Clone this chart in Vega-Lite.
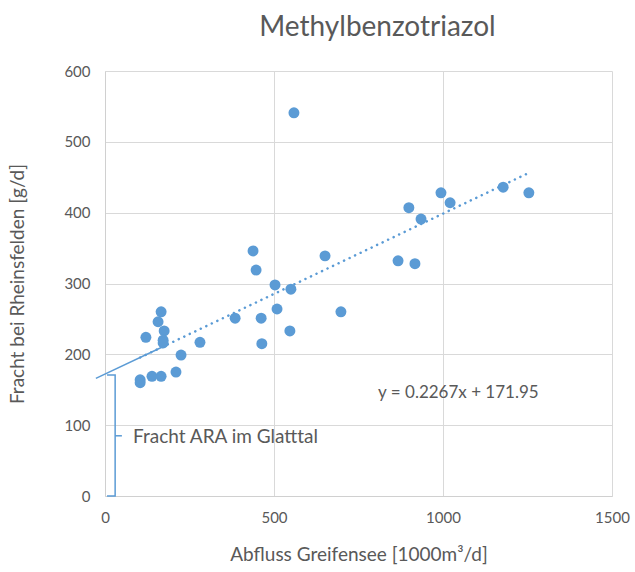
{
  "$schema": "https://vega.github.io/schema/vega-lite/v6.json",
  "autosize": "none",
  "width": 507,
  "height": 425,
  "padding": {"left": 105, "top": 71, "right": 23, "bottom": 76},
  "background": "white",
  "config": {
    "font": "Lato",
    "view": {"stroke": null},
    "axis": {"labelColor": "#595959", "titleColor": "#595959", "labelFont": "Lato", "titleFont": "Lato", "labelFontSize": 15, "titleFontSize": 19, "titleFontWeight": "normal", "gridColor": "#d9d9d9", "domainColor": "#d0d0d0", "ticks": false, "labelFlush": false}
  },
  "title": {"text": "Methylbenzotriazol", "fontSize": 28, "font": "Lato", "fontWeight": "normal", "color": "#595959", "anchor": "middle", "dx": 19, "offset": 22},
  "datasets": {
    "pts": [
      {"q": 559, "f": 541},
      {"q": 166, "f": 260}, {"q": 157, "f": 246}, {"q": 175, "f": 233}, {"q": 121, "f": 224},
      {"q": 172, "f": 220}, {"q": 172, "f": 216}, {"q": 281, "f": 217}, {"q": 225, "f": 199},
      {"q": 210, "f": 175}, {"q": 166, "f": 169}, {"q": 139, "f": 169}, {"q": 104, "f": 164}, {"q": 104, "f": 160},
      {"q": 438, "f": 346}, {"q": 447, "f": 319}, {"q": 651, "f": 339}, {"q": 503, "f": 298},
      {"q": 550, "f": 292}, {"q": 509, "f": 264}, {"q": 462, "f": 251}, {"q": 385, "f": 251},
      {"q": 698, "f": 260}, {"q": 547, "f": 233}, {"q": 464, "f": 215},
      {"q": 899, "f": 407}, {"q": 935, "f": 391}, {"q": 994, "f": 428}, {"q": 1021, "f": 414},
      {"q": 1178, "f": 436}, {"q": 1254, "f": 428}, {"q": 867, "f": 332}, {"q": 917, "f": 328}
    ],
    "trend": [{"q": 104, "f": 195.5}, {"q": 1258, "f": 457.1}],
    "annot": [
      {"g": "ext", "o": 1, "q": -27, "f": 166}, {"g": "ext", "o": 2, "q": 168, "f": 210},
      {"g": "br", "o": 1, "q": 6, "f": 171}, {"g": "br", "o": 2, "q": 30, "f": 171},
      {"g": "br", "o": 3, "q": 30, "f": 0}, {"g": "br", "o": 4, "q": 6, "f": 0},
      {"g": "tk", "o": 1, "q": 30, "f": 85}, {"g": "tk", "o": 2, "q": 50, "f": 85}
    ],
    "labels": [
      {"q": 808, "f": 145, "t": "y = 0.2267x + 171.95", "s": 17},
      {"q": 83, "f": 84, "t": "Fracht ARA  im Glatttal", "s": 19}
    ]
  },
  "encoding": {
    "x": {"field": "q", "type": "quantitative", "scale": {"domain": [0, 1500], "nice": false, "zero": false},
      "axis": {"values": [0, 500, 1000, 1500], "format": "d", "title": "Abfluss Greifensee [1000m³/d]", "labelPadding": 14, "titlePadding": 20, "domain": true, "grid": true}},
    "y": {"field": "f", "type": "quantitative", "scale": {"domain": [0, 600], "nice": false},
      "axis": {"values": [0, 100, 200, 300, 400, 500, 600], "format": "d", "title": "Fracht bei Rheinsfelden [g/d]", "labelPadding": 15, "titlePadding": 36, "domain": true, "grid": true}}
  },
  "layer": [
    {"data": {"name": "trend"}, "mark": {"type": "line", "color": "#5b9bd5", "strokeWidth": 2.5, "strokeCap": "round", "strokeDash": [0.1, 6]}},
    {"data": {"name": "annot"}, "mark": {"type": "line", "color": "#5b9bd5", "strokeWidth": 1.5, "clip": false},
      "encoding": {"detail": {"field": "g"}, "order": {"field": "o", "type": "quantitative"}}},
    {"data": {"name": "pts"}, "mark": {"type": "circle", "color": "#5b9bd5", "opacity": 1, "size": 120}},
    {"data": {"name": "labels"}, "mark": {"type": "text", "align": "left", "baseline": "middle", "color": "#595959", "font": "Lato"},
      "encoding": {"text": {"field": "t"}, "size": {"field": "s", "type": "quantitative", "scale": null}}}
  ]
}
